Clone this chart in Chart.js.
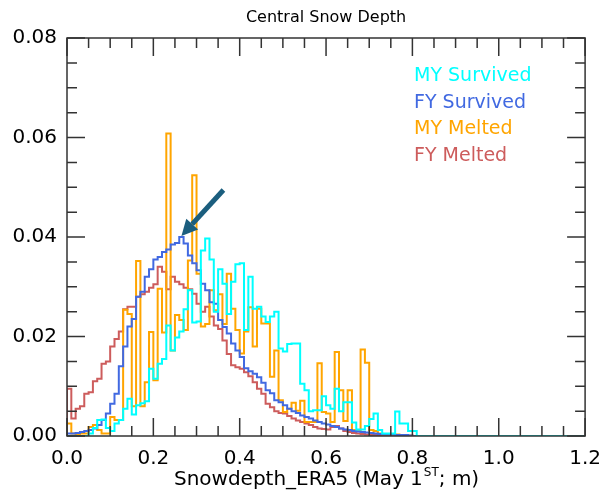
<!DOCTYPE html>
<html>
<head>
<meta charset="utf-8">
<script src="https://cdn.jsdelivr.net/npm/chart.js@4.4.1/dist/chart.umd.min.js"></script>
<style>
  html, body { margin: 0; padding: 0; background: #fff; }
</style>
</head>
<body>
<canvas id="myChart" width="612" height="494"></canvas>
<script>
(() => {
	'use strict'

	// bins are 0.01 m wide, starting at 0.0
	const binWidth = 0.01;

	const xTickValues = [0, 0.2, 0.4, 0.6, 0.8, 1.0, 1.2];
	const xTickLabels = ['0.0', '0.2', '0.4', '0.6', '0.8', '1.0', '1.2'];
	const yTickValues = [0, 0.02, 0.04, 0.06, 0.08];
	const yTickLabels = ['0.00', '0.02', '0.04', '0.06', '0.08'];

	const seriesNames = ['MY Survived', 'FY Survived', 'MY Melted', 'FY Melted'];

	const myYSurvived = [
		0, 0, 0, 0, 0,
		0.0005, 0.0016, 0.0032, 0.0033, 0.0016,
		0.001, 0.0025, 0.0032, 0.0055, 0.0075,
		0.0043, 0.0062, 0.0066, 0.007, 0.0135,
		0.0115, 0.0145, 0.0155, 0.0222, 0.0172,
		0.0198, 0.021, 0.0255, 0.0293, 0.0228,
		0.023, 0.0373, 0.0397, 0.0355, 0.025,
		0.0335, 0.0306, 0.0245, 0.031, 0.0345,
		0.0347, 0.0213, 0.032, 0.0256, 0.026,
		0.024, 0.0229, 0.024, 0.025, 0.0176,
		0.017, 0.0185, 0.0186, 0.0186, 0.0105,
		0.0092, 0.005, 0.0052, 0.0052, 0.008,
		0.0062, 0.0055, 0.0095, 0.005, 0.0068,
		0.0068, 0.0027, 0.0013, 0.0013, 0.002,
		0.0034, 0.0045, 0.0012, 0.0005, 0.0005,
		0.0005, 0.0049, 0.0025, 0.0025, 0.001,
		0.001, 0
	];

	const fySurvived = [
		0.0005, 0.0005, 0.0006, 0.0008, 0.001,
		0.0012, 0.0015, 0.0022, 0.0032, 0.0045,
		0.0065, 0.0085, 0.014, 0.018, 0.022,
		0.0235, 0.028, 0.029, 0.032, 0.0335,
		0.0355, 0.036, 0.037, 0.0375, 0.0385,
		0.0388, 0.040, 0.0387, 0.0363, 0.0347,
		0.0333, 0.0306, 0.0293, 0.0269, 0.0266,
		0.0233, 0.0219, 0.0206, 0.0186, 0.0172,
		0.0159, 0.0136, 0.013, 0.0125, 0.0118,
		0.0107, 0.0092, 0.0086, 0.0072, 0.0068,
		0.0062, 0.0055, 0.005, 0.0046, 0.0041,
		0.0038, 0.0035, 0.0031, 0.0028, 0.0025,
		0.0023, 0.002, 0.0018, 0.0015, 0.0013,
		0.0012, 0.001, 0.0009, 0.0008, 0.0007,
		0.0006, 0.0005, 0.0004, 0.0004, 0.0003,
		0.0003, 0.0002, 0.0002, 0.0002, 0.0001
	];

	const myMelted = [
		0.0025, 0.0005, 0.0003, 0.0005, 0.0005,
		0.0018, 0.0022, 0.0012, 0.0005, 0.0005,
		0.0038, 0.0032, 0.0032, 0.0254, 0.0245,
		0.006, 0.0352, 0.006, 0.0108, 0.0209,
		0.0112, 0.0296, 0.0208, 0.0608, 0.0172,
		0.0243, 0.0233, 0.0213, 0.0353, 0.0524,
		0.0326, 0.022, 0.0225, 0.0293, 0.0253,
		0.0285, 0.0225, 0.0326, 0.0256, 0.0213,
		0.0166, 0.021, 0.0259, 0.018, 0.0256,
		0.0226, 0.0226, 0.0119, 0.0172, 0.0072,
		0.0048, 0.0055, 0.0067, 0.0051, 0.0071,
		0.0028, 0.0028, 0.0028, 0.0146, 0.0048,
		0.0045, 0.0028, 0.0169, 0.0092, 0.003,
		0.0092, 0.0012, 0.0012, 0.0174, 0.0147,
		0.0012, 0.001, 0.0005, 0.0004, 0.0003,
		0.0003, 0.0003, 0.0002, 0.0002, 0.0001
	];

	const fyMelted = [
		0.0095, 0.0035, 0.0055, 0.006, 0.0085,
		0.0088, 0.011, 0.0115, 0.0145, 0.015,
		0.018, 0.0195, 0.021, 0.0255, 0.026,
		0.026, 0.028, 0.0285, 0.029, 0.0298,
		0.0305, 0.034, 0.033, 0.0295, 0.032,
		0.031, 0.0305, 0.0298, 0.0295, 0.0286,
		0.0266, 0.025, 0.026, 0.024, 0.0222,
		0.0215, 0.0192, 0.0165, 0.0142, 0.0138,
		0.0135, 0.0128, 0.012, 0.0108, 0.0095,
		0.0085, 0.0065, 0.0058, 0.005, 0.0046,
		0.0045, 0.004, 0.0035, 0.0031, 0.0028,
		0.0025, 0.0022, 0.0018, 0.0015, 0.0014,
		0.0013, 0.0018, 0.002, 0.0015, 0.001,
		0.0008, 0.0006, 0.0005, 0.0004, 0.0003,
		0.0002, 0.0002, 0.0001, 0.0001, 0
	];

	const colors = ['rgb(0,255,255)', 'rgb(65,105,225)', 'rgb(255,165,0)', 'rgb(205,92,92)'];
	const FONT = "'DejaVu Sans', sans-serif";

	// histogram outline: each value is drawn from its left bin edge to the next one
	function steps(values) {
		const pts = [{ x: 0, y: 0 }];
		values.forEach((v, i) => { pts.push({ x: (i + 1) * binWidth, y: v }); });
		pts.push({ x: values.length * binWidth, y: 0 });
		pts.push({ x: 1.2, y: 0 });
		return pts;
	}

	const allSeries = [myYSurvived, fySurvived, myMelted, fyMelted];

	const datasets = allSeries.map((vals, i) => ({
		label: seriesNames[i],
		data: steps(vals),
		borderColor: colors[i],
		borderWidth: 2,
		pointRadius: 0,
		fill: false,
		stepped: 'after'
	}));

	// frame with inward ticks, title, legend text, x title and arrow
	const decorations = {
		id: 'decorations',
		afterDatasetsDraw(chart) {
			const { ctx, chartArea: a, scales: { x, y } } = chart;
			ctx.save();

			// arrow pointing at the FY Survived peak
			const peak = fySurvived.indexOf(Math.max(...fySurvived));
			const tipX = x.getPixelForValue((peak + 0.5) * binWidth);
			const tipY = y.getPixelForValue(fySurvived[peak]) - 1;
			const tailX = tipX + 42, tailY = tipY - 46;
			const ang = Math.atan2(tipY - tailY, tipX - tailX);
			const headLen = 16, headW = 8;
			const bx = tipX - headLen * Math.cos(ang), by = tipY - headLen * Math.sin(ang);
			ctx.strokeStyle = '#1b5e7e';
			ctx.fillStyle = '#1b5e7e';
			ctx.lineWidth = 5;
			ctx.beginPath();
			ctx.moveTo(tailX, tailY);
			ctx.lineTo(bx, by);
			ctx.stroke();
			ctx.beginPath();
			ctx.moveTo(tipX, tipY);
			ctx.lineTo(bx + headW * Math.sin(ang), by - headW * Math.cos(ang));
			ctx.lineTo(bx - headW * Math.sin(ang), by + headW * Math.cos(ang));
			ctx.closePath();
			ctx.fill();

			// frame
			ctx.strokeStyle = '#333';
			ctx.lineWidth = 1.5;
			ctx.strokeRect(a.left, a.top, a.right - a.left, a.bottom - a.top);

			// ticks (majors every 0.2 / 0.02, minors every 0.05 / 0.005)
			ctx.beginPath();
			for (let k = 0; k <= 24; k++) {
				const px = x.getPixelForValue(k * 0.05);
				const len = k % 4 === 0 ? 18 : 10;
				ctx.moveTo(px, a.bottom); ctx.lineTo(px, a.bottom - len);
				ctx.moveTo(px, a.top); ctx.lineTo(px, a.top + len);
			}
			for (let k = 0; k <= 16; k++) {
				const py = y.getPixelForValue(k * 0.005);
				const len = k % 4 === 0 ? 18 : 10;
				ctx.moveTo(a.left, py); ctx.lineTo(a.left + len, py);
				ctx.moveTo(a.right, py); ctx.lineTo(a.right - len, py);
			}
			ctx.stroke();

			const cx = (a.left + a.right) / 2;

			// title
			ctx.fillStyle = '#000';
			ctx.font = '16px ' + FONT;
			ctx.textAlign = 'center';
			ctx.textBaseline = 'alphabetic';
			ctx.fillText('Central Snow Depth', cx, 22);

			// x axis title with superscript
			ctx.textAlign = 'left';
			const big = '20px ' + FONT, small = '12px ' + FONT;
			const p1 = 'Snowdepth_ERA5 (May 1', p2 = 'ST', p3 = '; m)';
			ctx.font = big;
			const w1 = ctx.measureText(p1).width, w3 = ctx.measureText(p3).width;
			ctx.font = small;
			const w2 = ctx.measureText(p2).width;
			let tx = cx - (w1 + w2 + w3) / 2;
			const ty = 485;
			ctx.font = big;
			ctx.fillText(p1, tx, ty);
			tx += w1;
			ctx.font = small;
			ctx.fillText(p2, tx + 1, ty - 9);
			tx += w2 + 1;
			ctx.font = big;
			ctx.fillText(p3, tx, ty);

			// legend as coloured text
			ctx.font = '19px ' + FONT;
			seriesNames.forEach((name, i) => {
				ctx.fillStyle = colors[i];
				ctx.fillText(name, 414, 81 + i * 26.5);
			});

			ctx.restore();
		}
	};

	const tickFont = { family: FONT, size: 20 };

	const chartEl = document.getElementById('myChart');
	// eslint-disable-next-line no-unused-vars
	const myChart = new Chart(chartEl, {
		type: 'line',
		data: { datasets },
		options: {
			responsive: false,
			animation: false,
			layout: { padding: { top: 38, right: 19, left: 0, bottom: 0 } },
			plugins: {
				legend: { display: false },
				title: { display: false },
				tooltip: { enabled: false }
			},
			scales: {
				x: {
					type: 'linear',
					min: 0,
					max: 1.2,
					afterBuildTicks: (s) => { s.ticks = xTickValues.map((v) => ({ value: v })); },
					afterFit: (s) => { s.height = 58; },
					grid: { display: false, drawTicks: false },
					border: { display: false },
					ticks: {
						font: tickFont,
						color: '#000',
						padding: 11,
						maxRotation: 0,
						autoSkip: false,
						callback: (v, i) => xTickLabels[i]
					}
				},
				y: {
					min: 0,
					max: 0.08,
					afterBuildTicks: (s) => { s.ticks = yTickValues.map((v) => ({ value: v })); },
					afterFit: (s) => { s.width = 67; },
					grid: { display: false, drawTicks: false },
					border: { display: false },
					ticks: {
						font: tickFont,
						color: '#000',
						padding: 10,
						callback: (v, i) => yTickLabels[i]
					}
				}
			}
		},
		plugins: [decorations]
	});
})();
</script>
</body>
</html>
